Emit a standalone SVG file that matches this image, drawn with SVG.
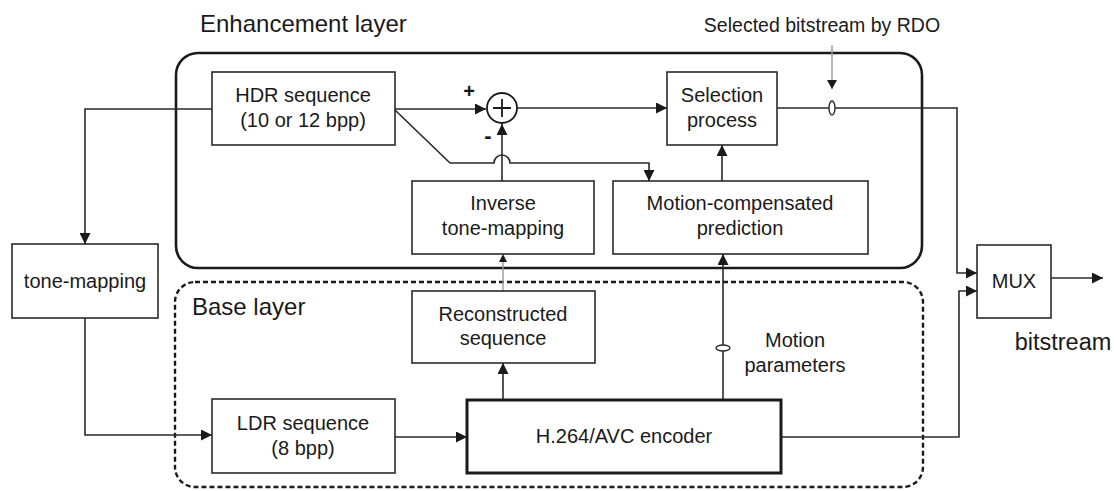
<svg xmlns="http://www.w3.org/2000/svg" width="1114" height="491" viewBox="0 0 1114 491">
  <defs>
    <marker id="arrow" viewBox="0 0 10 10" refX="10" refY="5" markerWidth="11" markerHeight="11" markerUnits="userSpaceOnUse" orient="auto">
      <path d="M0,0 L10,5 L0,10 Z" fill="#1a1a1a"/>
    </marker>
  </defs>
  <style>
    text { font-family: "Liberation Sans", Arial, sans-serif; fill: #1a1a1a; }
    .box { fill: #ffffff; stroke: #2a2a2a; stroke-width: 1.6; }
    .thick { fill: #ffffff; stroke: #1a1a1a; stroke-width: 3; }
    .lbl { font-size: 20px; text-anchor: middle; }
    .big { font-size: 24px; }
    .wire { fill: none; stroke: #2a2a2a; stroke-width: 1.6; }
    .grey { fill: none; stroke: #9a9a9a; stroke-width: 1.4; }
  </style>
  <rect width="1114" height="491" fill="#ffffff"/>

  <!-- layer frames -->
  <g id="enhancement-layer">
    <rect x="176" y="53" width="746" height="215" rx="22" ry="22" fill="none" stroke="#1a1a1a" stroke-width="2.6"/>
    <text class="big" x="200" y="32">Enhancement layer</text>
  </g>
  <g id="base-layer">
    <rect x="175" y="282" width="748" height="205" rx="20" ry="20" fill="none" stroke="#1a1a1a" stroke-width="2.4" stroke-dasharray="5,3"/>
    <text class="big" x="192" y="315">Base layer</text>
  </g>

  <!-- connectors -->
  <g id="connectors">
    <!-- HDR to tone-mapping -->
    <path class="wire" d="M212,109 H85 V244" marker-end="url(#arrow)"/>
    <!-- tone-mapping to LDR -->
    <path class="wire" d="M85,318 V435 H212" marker-end="url(#arrow)"/>
    <!-- HDR to adder -->
    <path class="wire" d="M395,109 H486" marker-end="url(#arrow)"/>
    <!-- HDR to motion-compensated prediction, hopping over the adder input -->
    <path class="wire" d="M395,110 L450,163 H494 A8,8 0 0 1 510,163 H649 V181" marker-end="url(#arrow)"/>
    <!-- inverse tone-mapping to adder -->
    <path class="wire" d="M502,181 V124" marker-end="url(#arrow)"/>
    <!-- adder to selection -->
    <path class="wire" d="M517,108 H667" marker-end="url(#arrow)"/>
    <!-- prediction to selection -->
    <path class="wire" d="M722,181 V145" marker-end="url(#arrow)"/>
    <!-- selection to MUX -->
    <path class="wire" d="M777,108 H957 V273 H977" marker-end="url(#arrow)"/>
    <ellipse cx="832" cy="108" rx="3" ry="7" fill="#ffffff" stroke="#2a2a2a" stroke-width="1.4"/>
    <path class="grey" d="M832,45 V89"/>
    <path d="M827,80 L837,80 L832,89 Z" fill="#1a1a1a"/>
    <!-- encoder to MUX -->
    <path class="wire" d="M781,437 H959 V291 H977" marker-end="url(#arrow)"/>
    <!-- MUX output -->
    <path class="wire" d="M1051,278 H1103" marker-end="url(#arrow)"/>
    <!-- LDR to encoder -->
    <path class="wire" d="M395,437 H467" marker-end="url(#arrow)"/>
    <!-- encoder to reconstructed -->
    <path class="wire" d="M503,400 V363" marker-end="url(#arrow)"/>
    <!-- reconstructed to inverse tone-mapping -->
    <path class="grey" d="M503,291 V262"/>
    <path d="M499,262 L507,262 L503,254 Z" fill="#1a1a1a"/>
    <!-- motion parameters -->
    <path class="wire" d="M723,400 V254" marker-end="url(#arrow)"/>
    <ellipse cx="723" cy="348" rx="7" ry="3" fill="#ffffff" stroke="#2a2a2a" stroke-width="1.4"/>
  </g>

  <!-- nodes -->
  <g id="hdr">
    <rect class="box" x="212" y="72" width="183" height="73"/>
    <text class="lbl" x="303" y="102">HDR sequence</text>
    <text class="lbl" x="303" y="127">(10 or 12 bpp)</text>
  </g>
  <g id="adder">
    <circle cx="502" cy="108" r="15" fill="#ffffff" stroke="#1a1a1a" stroke-width="1.8"/>
    <path d="M493,108 H511 M502,99 V117" stroke="#1a1a1a" stroke-width="1.8"/>
    <text x="469" y="98" style="font-size:20px; font-weight:bold" text-anchor="middle">+</text>
    <text x="488" y="143" style="font-size:22px; font-weight:bold" text-anchor="middle">-</text>
  </g>
  <g id="selection">
    <rect class="box" x="667" y="72" width="110" height="73"/>
    <text class="lbl" x="722" y="102">Selection</text>
    <text class="lbl" x="722" y="127">process</text>
  </g>
  <g id="selected-label">
    <text x="822" y="32" style="font-size:19.5px" text-anchor="middle">Selected bitstream by RDO</text>
  </g>
  <g id="inverse-tone-mapping">
    <rect class="box" x="412" y="181" width="182" height="73"/>
    <text class="lbl" x="503" y="210">Inverse</text>
    <text class="lbl" x="503" y="235">tone-mapping</text>
  </g>
  <g id="motion-compensated">
    <rect class="box" x="613" y="181" width="255" height="73"/>
    <text class="lbl" x="740" y="210">Motion-compensated</text>
    <text class="lbl" x="740" y="235">prediction</text>
  </g>
  <g id="tone-mapping">
    <rect class="box" x="12" y="244" width="146" height="74"/>
    <text class="lbl" x="85" y="288">tone-mapping</text>
  </g>
  <g id="reconstructed">
    <rect class="box" x="412" y="291" width="183" height="72"/>
    <text class="lbl" x="503" y="321">Reconstructed</text>
    <text class="lbl" x="503" y="345">sequence</text>
  </g>
  <g id="motion-parameters">
    <text class="lbl" x="795" y="347">Motion</text>
    <text class="lbl" x="795" y="372">parameters</text>
  </g>
  <g id="ldr">
    <rect class="box" x="212" y="399" width="183" height="74"/>
    <text class="lbl" x="303" y="430">LDR sequence</text>
    <text class="lbl" x="303" y="455">(8 bpp)</text>
  </g>
  <g id="encoder">
    <rect class="thick" x="467" y="400" width="314" height="73"/>
    <text class="lbl" x="624" y="443">H.264/AVC encoder</text>
  </g>
  <g id="mux">
    <rect class="box" x="977" y="245" width="74" height="73"/>
    <text class="lbl" x="1014" y="288">MUX</text>
    <text x="1063" y="350" style="font-size:23.5px" text-anchor="middle">bitstream</text>
  </g>
</svg>
